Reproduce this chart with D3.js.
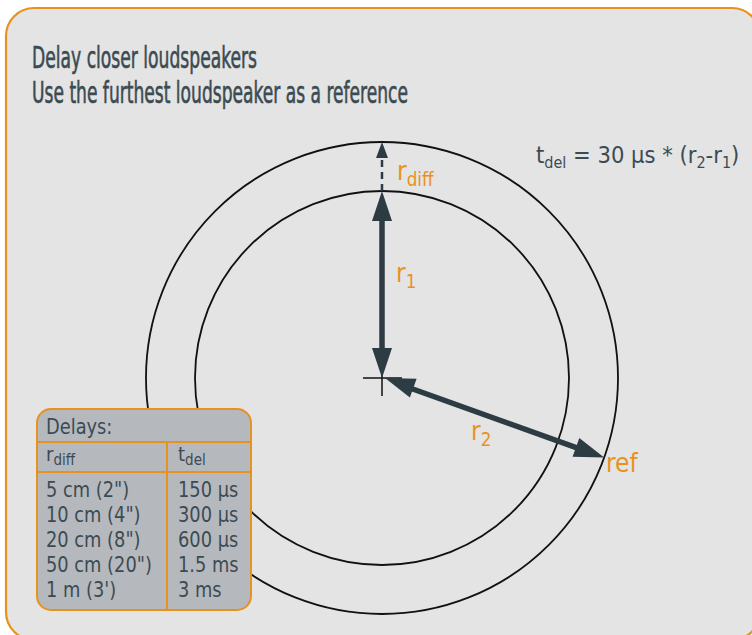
<!DOCTYPE html>
<html>
<head>
<meta charset="utf-8">
<script src="https://cdn.jsdelivr.net/npm/d3@7"></script>
<style>
    html, body { margin: 0; padding: 0; background: #fff; }
    svg { display: block; }
    text { font-family: "DejaVu Sans Condensed", "DejaVu Sans", sans-serif; }
</style>
</head>
<body>
<svg id="chart" width="752" height="635"></svg>
<script>
// title lines
const titleLines = ["Delay closer loudspeakers", "Use the furthest loudspeaker as a reference"];

// circle radii (same units as the pixel scale below)
const radii = [187, 236];
const refAngle = 19.7; // degrees below horizontal for r2

// delay table
const tableHeader = "Delays:";
const rDiffValues = ["5 cm (2\")", "10 cm (4\")", "20 cm (8\")", "50 cm (20\")", "1 m (3')"];
const tDelValues = ["150 µs", "300 µs", "600 µs", "1.5 ms", "3 ms"];

const orange = "#e8921e";
const dark = "#2d3b42";
const textColor = "#3c4b52";

const svg = d3.select("#chart");
const cx = 382, cy = 378;

// radius scale (1:1)
const r = d3.scaleLinear().domain([0, 1]).range([0, 1]);

// narrow the condensed font a little more to match the reference face
const squeeze = (sel, k) => sel.each(function () {
    const len = this.getComputedTextLength();
    d3.select(this).attr("textLength", len * k).attr("lengthAdjust", "spacingAndGlyphs");
});

// frame
svg.append("rect")
    .attr("x", 6).attr("y", 8)
    .attr("width", 754).attr("height", 632)
    .attr("rx", 28)
    .attr("fill", "#e4e4e4")
    .attr("stroke", orange)
    .attr("stroke-width", 2.2);

// title
svg.append("g")
    .selectAll("text")
    .data(titleLines)
    .enter()
    .append("text")
    .attr("x", 32)
    .attr("y", (d, i) => 68 + i * 35)
    .attr("fill", textColor)
    .attr("stroke", textColor)
    .attr("stroke-width", 0.6)
    .attr("font-size", 29.5)
    .attr("textLength", (d, i) => i ? 376 : 225)
    .attr("lengthAdjust", "spacingAndGlyphs")
    .text(d => d);

// circles
svg.append("g")
    .selectAll("circle")
    .data(radii)
    .enter()
    .append("circle")
    .attr("cx", cx).attr("cy", cy)
    .attr("r", d => r(d))
    .attr("fill", "none")
    .attr("stroke", "#111")
    .attr("stroke-width", 1.8);

// crosshair
svg.append("path")
    .attr("d", `M${cx - 19},${cy}H${cx + 20}M${cx},${cy - 12}V${cy + 18}`)
    .attr("stroke", "#111")
    .attr("stroke-width", 1.5);

// arrowhead polygon: tip at (x,y), pointing along angle a (radians)
const head = (x, y, a, len, half) => {
    const bx = x - Math.cos(a) * len, by = y - Math.sin(a) * len;
    const nx = -Math.sin(a) * half, ny = Math.cos(a) * half;
    return `M${x},${y}L${bx + nx},${by + ny}L${bx - nx},${by - ny}Z`;
};

const r1 = r(radii[0]), r2 = r(radii[1]);
const up = -Math.PI / 2;

// r1 arrow (double headed)
svg.append("line")
    .attr("x1", cx).attr("y1", cy - 28)
    .attr("x2", cx).attr("y2", cy - r1 + 28)
    .attr("stroke", dark).attr("stroke-width", 5.5);
svg.append("path").attr("d", head(cx, cy - r1, up, 30, 10)).attr("fill", dark);
svg.append("path").attr("d", head(cx, cy, -up, 30, 10)).attr("fill", dark);

// rdiff dashed arrow
svg.append("line")
    .attr("x1", cx).attr("y1", cy - r1)
    .attr("x2", cx).attr("y2", cy - r2 + 14)
    .attr("stroke", dark).attr("stroke-width", 2.5)
    .attr("stroke-dasharray", "7,5");
svg.append("path").attr("d", head(cx, cy - r2, up, 16, 6)).attr("fill", dark);

// r2 arrow
const a2 = refAngle * Math.PI / 180;
const ex = cx + Math.cos(a2) * r2, ey = cy + Math.sin(a2) * r2;
svg.append("line")
    .attr("x1", cx + Math.cos(a2) * 26).attr("y1", cy + Math.sin(a2) * 26)
    .attr("x2", ex - Math.cos(a2) * 26).attr("y2", ey - Math.sin(a2) * 26)
    .attr("stroke", dark).attr("stroke-width", 5.5);
svg.append("path").attr("d", head(ex, ey, a2, 30, 10)).attr("fill", dark);
svg.append("path").attr("d", head(cx + 3, cy, a2 + Math.PI, 30, 10)).attr("fill", dark);

// labels with subscripts
const subLabel = (x, y, main, sub, size, color) => {
    const t = svg.append("text")
        .attr("x", x).attr("y", y)
        .attr("fill", color)
        .attr("font-size", size);
    t.append("tspan").text(main);
    if (sub) t.append("tspan").attr("dy", size * 0.22).attr("font-size", size * 0.72).text(sub);
    return t;
};

subLabel(397, 180, "r", "diff", 26, orange);
subLabel(396, 282, "r", "1", 26, orange);
subLabel(471, 440, "r", "2", 26, orange);
subLabel(606, 472, "ref", null, 26, orange);

// formula
const f = svg.append("text")
    .attr("x", 536).attr("y", 163)
    .attr("fill", textColor)
    .attr("font-size", 23.5);
f.append("tspan").text("t");
f.append("tspan").attr("dy", 5).attr("font-size", 16).text("del");
f.append("tspan").attr("dy", -5).text(" = 30 µs * (r");
f.append("tspan").attr("dy", 5).attr("font-size", 16).text("2");
f.append("tspan").attr("dy", -5).text("-r");
f.append("tspan").attr("dy", 5).attr("font-size", 16).text("1");
f.append("tspan").attr("dy", -5).text(")");

// table
const tx = 37, ty = 409, tw = 214, th = 201;
const colX = 167;
const rowHeader = 442, rowSub = 472;
const rowY = d3.scalePoint().domain(d3.range(rDiffValues.length)).range([497, 597]);

const table = svg.append("g");
table.append("rect")
    .attr("x", tx).attr("y", ty)
    .attr("width", tw).attr("height", th)
    .attr("rx", 14)
    .attr("fill", "#b5b9be")
    .attr("stroke", orange)
    .attr("stroke-width", 2);
table.append("path")
    .attr("d", `M${tx},${rowHeader}H${tx + tw}M${tx},${rowSub}H${tx + tw}M${colX},${rowHeader}V${ty + th}`)
    .attr("stroke", orange)
    .attr("stroke-width", 2)
    .attr("fill", "none");

table.append("text")
    .attr("x", 46).attr("y", 434)
    .attr("fill", textColor)
    .attr("font-size", 22)
    .text(tableHeader)
    .call(squeeze, 0.9);

const hd1 = table.append("text").attr("x", 46).attr("y", 461).attr("fill", textColor).attr("font-size", 20);
hd1.append("tspan").text("r");
hd1.append("tspan").attr("dy", 4).attr("font-size", 15).text("diff");
const hd2 = table.append("text").attr("x", 178).attr("y", 461).attr("fill", textColor).attr("font-size", 20);
hd2.append("tspan").text("t");
hd2.append("tspan").attr("dy", 4).attr("font-size", 15).text("del");

table.selectAll(".rd")
    .data(rDiffValues)
    .enter()
    .append("text")
    .attr("class", "rd")
    .attr("x", 46)
    .attr("y", (d, i) => rowY(i))
    .attr("fill", textColor)
    .attr("font-size", 22)
    .text(d => d)
    .call(squeeze, 0.9);

table.selectAll(".td")
    .data(tDelValues)
    .enter()
    .append("text")
    .attr("class", "td")
    .attr("x", 178)
    .attr("y", (d, i) => rowY(i))
    .attr("fill", textColor)
    .attr("font-size", 22)
    .text(d => d)
    .call(squeeze, 0.9);
</script>
</body>
</html>
